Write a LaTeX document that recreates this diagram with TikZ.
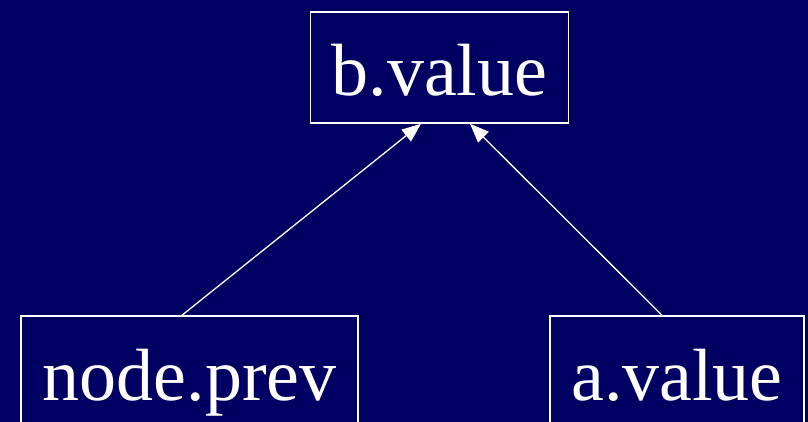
\documentclass[tikz,border=0pt]{standalone}
\usepackage{fontspec}
\setmainfont{Liberation Serif}
\usetikzlibrary{arrows.meta}
\definecolor{bgnavy}{RGB}{0,0,98}
\tikzset{
  varbox/.style={draw=white, line width=1.5pt, text=white, minimum height=111pt,
    text height=57pt, text depth=0pt, inner sep=0pt,
    font=\fontsize{74}{80}\selectfont},
  dep/.style={draw=white, line width=1.3pt, -{Triangle[length=19pt,width=15pt]}}
}
\begin{document}
\begin{tikzpicture}[x=1pt,y=-1pt]
  \fill[bgnavy] (0,0) rectangle (808,422);
  \useasboundingbox (0,0) rectangle (808,422);
  \node[varbox, minimum width=258pt] (bv) at (439.5,67.5) {b.value};
  \node[varbox, minimum width=337pt] (np) at (189.7,371.5) {node.prev};
  \node[varbox, minimum width=254pt] (av) at (677,371.5) {a.value};
  \draw[dep] ([xshift=-7.7pt]np.north) -- ([xshift=-18.5pt]bv.south);
  \draw[dep] ([xshift=-15pt]av.north) -- ([xshift=30.5pt]bv.south);
\end{tikzpicture}
\end{document}
